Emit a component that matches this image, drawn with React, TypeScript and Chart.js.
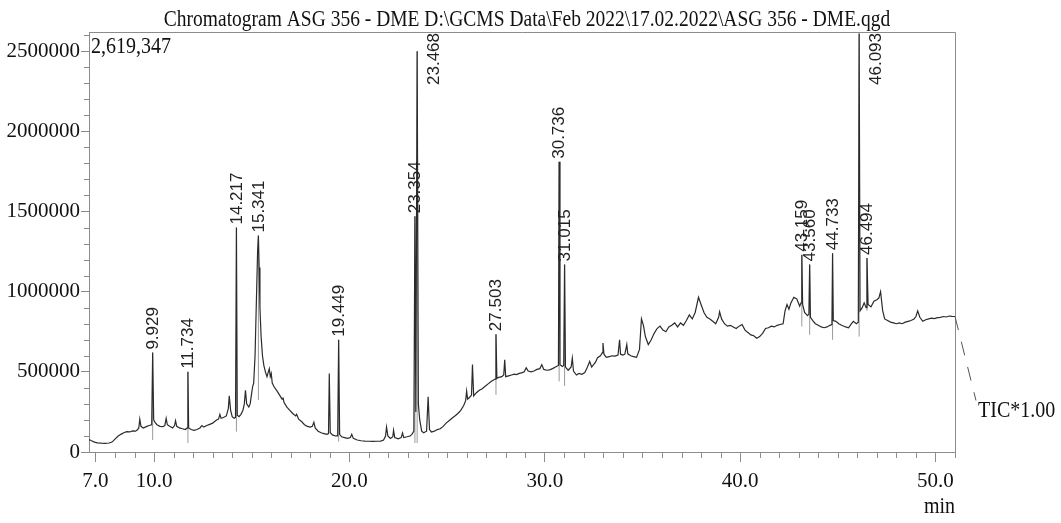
import React, { useEffect, useRef } from "react";
import { Chart, registerables } from "chart.js";

Chart.register(...registerables);

// ---------- data ----------
const retentionTimes = [
  6.67, 6.8, 6.95, 7.1, 7.3, 7.5, 7.7, 7.85, 8.0, 8.15, 8.3, 8.45, 8.6, 8.75, 8.9, 9.05, 9.15, 9.22, 9.27, 9.33,
  9.45, 9.6, 9.75, 9.88, 9.929, 9.98, 10.05, 10.15, 10.3, 10.45, 10.55, 10.62, 10.68, 10.8, 10.95, 11.05, 11.1, 11.16, 11.3, 11.45,
  11.6, 11.7, 11.734, 11.77, 11.9, 12.05, 12.2, 12.35, 12.45, 12.55, 12.7, 12.85, 13.0, 13.1, 13.2, 13.3, 13.37, 13.43, 13.55, 13.7,
  13.8, 13.85, 13.92, 14.0, 14.1, 14.17, 14.217, 14.26, 14.35, 14.45, 14.55, 14.62, 14.68, 14.74, 14.85, 14.92, 15.0, 15.05, 15.1, 15.17,
  15.24, 15.3, 15.341, 15.38, 15.42, 15.48, 15.55, 15.62, 15.7, 15.78, 15.85, 15.9, 15.95, 16.0, 16.05, 16.15, 16.3, 16.45, 16.55, 16.6,
  16.65, 16.8, 16.95, 17.1, 17.25, 17.3, 17.4, 17.55, 17.7, 17.85, 18.0, 18.1, 18.18, 18.25, 18.4, 18.55, 18.7, 18.85, 18.93, 18.97,
  19.02, 19.15, 19.3, 19.4, 19.449, 19.5, 19.6, 19.75, 19.9, 20.05, 20.12, 20.2, 20.4, 20.6, 20.8, 21.0, 21.2, 21.4, 21.6, 21.75,
  21.85, 21.9, 21.97, 22.1, 22.22, 22.26, 22.32, 22.5, 22.65, 22.72, 22.78, 22.95, 23.1, 23.2, 23.3, 23.354, 23.4, 23.468, 23.53, 23.6,
  23.7, 23.8, 23.95, 24.03, 24.1, 24.2, 24.35, 24.5, 24.65, 24.8, 24.95, 25.1, 25.25, 25.4, 25.55, 25.7, 25.85, 25.95, 26.0, 26.05,
  26.15, 26.25, 26.3, 26.36, 26.5, 26.65, 26.8, 26.95, 27.1, 27.25, 27.4, 27.46, 27.503, 27.55, 27.65, 27.8, 27.9, 27.95, 28.0, 28.15,
  28.3, 28.45, 28.55, 28.7, 28.85, 28.95, 29.05, 29.15, 29.3, 29.45, 29.6, 29.75, 29.85, 29.95, 30.1, 30.25, 30.4, 30.55, 30.7, 30.736,
  30.78, 30.9, 30.97, 31.015, 31.06, 31.2, 31.35, 31.41, 31.47, 31.62, 31.75, 31.9, 32.05, 32.15, 32.3, 32.4, 32.5, 32.6, 32.7, 32.85,
  32.95, 32.98, 33.03, 33.15, 33.3, 33.45, 33.6, 33.75, 33.83, 33.88, 34.0, 34.1, 34.2, 34.25, 34.4, 34.55, 34.7, 34.85, 34.95, 35.05,
  35.15, 35.3, 35.45, 35.6, 35.75, 35.9, 36.05, 36.2, 36.35, 36.5, 36.65, 36.8, 36.95, 37.1, 37.25, 37.4, 37.55, 37.7, 37.87, 38.0,
  38.15, 38.3, 38.45, 38.6, 38.75, 38.9, 38.95, 39.05, 39.2, 39.35, 39.5, 39.65, 39.8, 39.95, 40.1, 40.25, 40.4, 40.55, 40.7, 40.85,
  41.0, 41.15, 41.3, 41.45, 41.6, 41.75, 41.9, 42.05, 42.2, 42.3, 42.4, 42.5, 42.6, 42.75, 42.9, 43.05, 43.12, 43.159, 43.2, 43.3,
  43.45, 43.52, 43.56, 43.6, 43.72, 43.85, 44.0, 44.15, 44.3, 44.45, 44.6, 44.7, 44.733, 44.77, 44.9, 45.05, 45.2, 45.4, 45.55, 45.7,
  45.8, 45.95, 46.05, 46.093, 46.14, 46.25, 46.35, 46.45, 46.494, 46.55, 46.7, 46.85, 47.0, 47.1, 47.19, 47.3, 47.4, 47.55, 47.7, 47.85,
  48.0, 48.15, 48.3, 48.45, 48.6, 48.75, 48.9, 49.0, 49.09, 49.2, 49.35, 49.5, 49.65, 49.8, 49.95, 50.1, 50.25, 50.4, 50.55, 50.7,
  50.85, 51.0,
];

const ticIntensity = [
  78000, 70000, 62000, 57000, 55000, 54000, 56000, 62000, 80000, 98000, 110000, 120000, 127000, 125000, 132000, 130000, 138000, 150000, 205000, 160000,
  150000, 158000, 165000, 170000, 620000, 200000, 185000, 170000, 160000, 158000, 165000, 210000, 170000, 160000, 150000, 165000, 195000, 160000, 150000, 145000,
  140000, 150000, 500000, 150000, 140000, 135000, 140000, 150000, 165000, 155000, 165000, 172000, 180000, 190000, 200000, 205000, 235000, 210000, 215000, 225000,
  270000, 350000, 260000, 220000, 210000, 215000, 1400000, 230000, 220000, 235000, 260000, 300000, 385000, 300000, 280000, 300000, 370000, 410000, 430000, 600000,
  950000, 1250000, 1350000, 1150000, 900000, 720000, 600000, 540000, 500000, 470000, 500000, 520000, 470000, 490000, 430000, 405000, 380000, 350000, 330000, 340000,
  310000, 280000, 260000, 240000, 225000, 235000, 205000, 190000, 170000, 160000, 155000, 160000, 185000, 150000, 130000, 120000, 115000, 110000, 115000, 490000,
  120000, 105000, 100000, 100000, 700000, 110000, 95000, 90000, 85000, 90000, 110000, 85000, 75000, 70000, 68000, 67000, 66000, 67000, 68000, 75000,
  100000, 155000, 100000, 85000, 95000, 135000, 90000, 82000, 90000, 118000, 90000, 95000, 100000, 110000, 130000, 1470000, 250000, 2500000, 300000, 200000,
  130000, 120000, 130000, 345000, 140000, 125000, 130000, 140000, 145000, 160000, 180000, 195000, 210000, 225000, 240000, 260000, 290000, 320000, 380000, 330000,
  340000, 355000, 545000, 350000, 370000, 385000, 395000, 410000, 425000, 440000, 450000, 455000, 735000, 460000, 465000, 470000, 480000, 575000, 470000, 475000,
  480000, 485000, 483000, 490000, 495000, 500000, 525000, 505000, 500000, 505000, 515000, 520000, 545000, 515000, 510000, 512000, 520000, 530000, 540000, 1810000,
  545000, 533000, 540000, 1170000, 530000, 510000, 530000, 585000, 505000, 480000, 490000, 485000, 495000, 520000, 565000, 530000, 545000, 560000, 588000, 600000,
  620000, 680000, 610000, 590000, 595000, 600000, 598000, 605000, 700000, 610000, 605000, 610000, 670000, 612000, 600000, 595000, 590000, 640000, 830000, 790000,
  720000, 670000, 700000, 740000, 770000, 785000, 760000, 750000, 780000, 790000, 805000, 780000, 805000, 790000, 820000, 855000, 830000, 870000, 965000, 920000,
  870000, 840000, 830000, 815000, 800000, 840000, 875000, 830000, 800000, 785000, 790000, 780000, 770000, 785000, 795000, 760000, 745000, 730000, 725000, 710000,
  720000, 740000, 770000, 775000, 785000, 780000, 790000, 795000, 800000, 880000, 920000, 890000, 930000, 965000, 955000, 910000, 930000, 1230000, 920000, 870000,
  850000, 860000, 1170000, 840000, 820000, 800000, 790000, 780000, 775000, 780000, 790000, 795000, 1240000, 820000, 815000, 800000, 790000, 780000, 775000, 800000,
  815000, 800000, 810000, 2610000, 880000, 900000, 930000, 900000, 1210000, 920000, 905000, 940000, 950000, 960000, 1000000, 880000, 830000, 820000, 810000, 805000,
  800000, 805000, 800000, 810000, 815000, 820000, 830000, 845000, 880000, 840000, 815000, 825000, 830000, 835000, 832000, 838000, 840000, 845000, 842000, 848000,
  846000, 845000,
];

const peakLabels = ["9.929", "11.734", "14.217", "15.341", "19.449", "23.354", "23.468", "27.503", "30.736", "31.015", "43.159", "43.560", "44.733", "46.093", "46.494"];
const peakTimes = [9.929, 11.734, 14.217, 15.341, 19.449, 23.354, 23.468, 27.503, 30.736, 31.015, 43.159, 43.56, 44.733, 46.093, 46.494];
const peakHeights = [620000, 500000, 1400000, 1350000, 700000, 1470000, 2500000, 735000, 1810000, 1170000, 1230000, 1170000, 1240000, 2610000, 1210000];
const peakFeet = [75000, 56000, 127000, 325000, 65000, 56000, 56000, 356000, 440000, 412000, 783000, 731000, 700000, 720000, 880000];

const xTickValues = [7, 10, 20, 30, 40, 50];
const yTickValues = [0, 500000, 1000000, 1500000, 2000000, 2500000];
const xMin = 6.67;
const xMax = 51.0;
const yMax = 2619347;

const titleText = "Chromatogram ASG 356 - DME D:\\GCMS Data\\Feb 2022\\17.02.2022\\ASG 356 - DME.qgd";
const maxLabel = "2,619,347";
const traceLabel = "TIC*1.00";
const xUnitLabel = "min";

const SERIF = "'Liberation Serif', 'Times New Roman', serif";
const SANS = "'Liberation Sans', Arial, sans-serif";
const AXIS_GREY = "#8c8c8c";

function drawStretched(ctx: CanvasRenderingContext2D, text: string, x: number, y: number, align: CanvasTextAlign, px: number, sy: number) {
  ctx.save();
  ctx.translate(x, y);
  ctx.scale(1, sy);
  ctx.font = `${px}px ${SERIF}`;
  ctx.textAlign = align;
  ctx.textBaseline = "alphabetic";
  ctx.fillStyle = "#111";
  ctx.fillText(text, 0, 0);
  ctx.restore();
}

const decorPlugin = {
  id: "chromDecor",
  afterDraw(chart: any) {
    const { ctx, chartArea, scales } = chart;
    const xs = scales.x;
    const ys = scales.y;
    ctx.save();
    // frame top/right
    ctx.strokeStyle = AXIS_GREY;
    ctx.lineWidth = 1;
    ctx.beginPath();
    ctx.moveTo(chartArea.left, chartArea.top + 0.5);
    ctx.lineTo(chartArea.right + 0.5, chartArea.top + 0.5);
    ctx.lineTo(chartArea.right + 0.5, chartArea.bottom);
    ctx.stroke();
    // minor ticks
    ctx.beginPath();
    for (let v = 100000; v <= yMax; v += 100000) {
      if (v % 500000 === 0) continue;
      const py = Math.round(ys.getPixelForValue(v)) + 0.5;
      ctx.moveTo(chartArea.left - 5, py);
      ctx.lineTo(chartArea.left, py);
    }
    for (let t = 7; t <= xMax; t += 1) {
      if (xTickValues.includes(t)) continue;
      const px = Math.round(xs.getPixelForValue(t)) + 0.5;
      ctx.moveTo(px, chartArea.bottom);
      ctx.lineTo(px, chartArea.bottom + 6);
    }
    ctx.stroke();

    // peak labels
    ctx.font = `17px ${SANS}`;
    ctx.fillStyle = "#222";
    ctx.textBaseline = "middle";
    ctx.textAlign = "left";
    peakLabels.forEach((lab, i) => {
      const px = xs.getPixelForValue(peakTimes[i]);
      const py = ys.getPixelForValue(peakHeights[i]);
      const w = ctx.measureText(lab).width;
      ctx.save();
      if (py - 3 - w < chartArea.top) {
        ctx.translate(px + 17, chartArea.top + 1 + w);
      } else {
        ctx.translate(px + 0.5, py - 3);
      }
      ctx.rotate(-Math.PI / 2);
      ctx.fillText(lab, 0, 0);
      ctx.restore();
    });

    // title & annotations
    drawStretched(ctx, titleText, (chartArea.left + chartArea.right) / 2 + 5, 26, "center", 19.5, 1.2);
    drawStretched(ctx, maxLabel, chartArea.left + 2, 53, "left", 20, 1.2);
    drawStretched(ctx, xUnitLabel, chartArea.right, 513, "right", 20, 1.2);

    const lastX = xs.getPixelForValue(retentionTimes[retentionTimes.length - 1]);
    const lastY = ys.getPixelForValue(ticIntensity[ticIntensity.length - 1]);
    ctx.strokeStyle = "#555";
    ctx.setLineDash([14, 12]);
    ctx.beginPath();
    ctx.moveTo(lastX, lastY);
    ctx.lineTo(lastX + 21, lastY + 84);
    ctx.stroke();
    ctx.setLineDash([]);
    drawStretched(ctx, traceLabel, lastX + 23, lastY + 100, "left", 20, 1.2);
    ctx.restore();
  },
};

export default function App() {
  const canvasRef = useRef<HTMLCanvasElement | null>(null);

  useEffect(() => {
    if (!canvasRef.current) return;
    const signal = retentionTimes.map((t, i) => ({ x: t, y: ticIntensity[i] }));
    const markers: { x: number; y: number | null }[] = [];
    peakTimes.forEach((t, i) => {
      markers.push({ x: t, y: peakFeet[i] });
      markers.push({ x: t, y: peakHeights[i] });
      markers.push({ x: t, y: null });
    });

    const chart = new Chart(canvasRef.current, {
      type: "line",
      data: {
        datasets: [
          {
            label: "TIC",
            data: signal,
            borderColor: "#2b2b2b",
            borderWidth: 1.2,
            pointRadius: 0,
            tension: 0,
            order: 1,
          },
          {
            label: "peaks",
            data: markers as any,
            borderColor: "#9a9a9a",
            borderWidth: 1,
            pointRadius: 0,
            spanGaps: false,
            tension: 0,
            order: 2,
          },
        ],
      },
      options: {
        animation: false,
        responsive: false,
        maintainAspectRatio: false,
        layout: { padding: { left: 0, right: 106, top: 32, bottom: 0 } },
        plugins: {
          legend: { display: false },
          title: { display: false },
          tooltip: { enabled: false },
        },
        scales: {
          x: {
            type: "linear",
            min: xMin,
            max: xMax,
            afterBuildTicks: (s: any) => {
              s.ticks = xTickValues.map((v) => ({ value: v }));
            },
            afterFit: (s: any) => {
              s.height = 71;
            },
            grid: { display: true, drawOnChartArea: false, drawTicks: true, tickLength: 10, tickColor: AXIS_GREY },
            border: { display: true, color: AXIS_GREY, width: 1 },
            ticks: {
              autoSkip: false,
              maxRotation: 0,
              padding: 7,
              color: "#111",
              font: { family: SERIF, size: 21 },
              callback: (v: any) => Number(v).toFixed(1),
            },
          },
          y: {
            type: "linear",
            min: 0,
            max: yMax,
            afterBuildTicks: (s: any) => {
              s.ticks = yTickValues.map((v) => ({ value: v }));
            },
            afterFit: (s: any) => {
              s.width = 89;
            },
            grid: { display: true, drawOnChartArea: false, drawTicks: true, tickLength: 8, tickColor: AXIS_GREY },
            border: { display: true, color: AXIS_GREY, width: 1 },
            ticks: {
              autoSkip: false,
              padding: 1,
              color: "#111",
              font: { family: SERIF, size: 21 },
              callback: (v: any) => String(v),
            },
          },
        },
      },
      plugins: [decorPlugin],
    });
    return () => chart.destroy();
  }, []);

  return (
    <div style={{ position: "fixed", left: 0, top: 0, width: 1061, height: 523, background: "#fff" }}>
      <canvas ref={canvasRef} width={1061} height={523} style={{ display: "block", width: 1061, height: 523 }} />
    </div>
  );
}
